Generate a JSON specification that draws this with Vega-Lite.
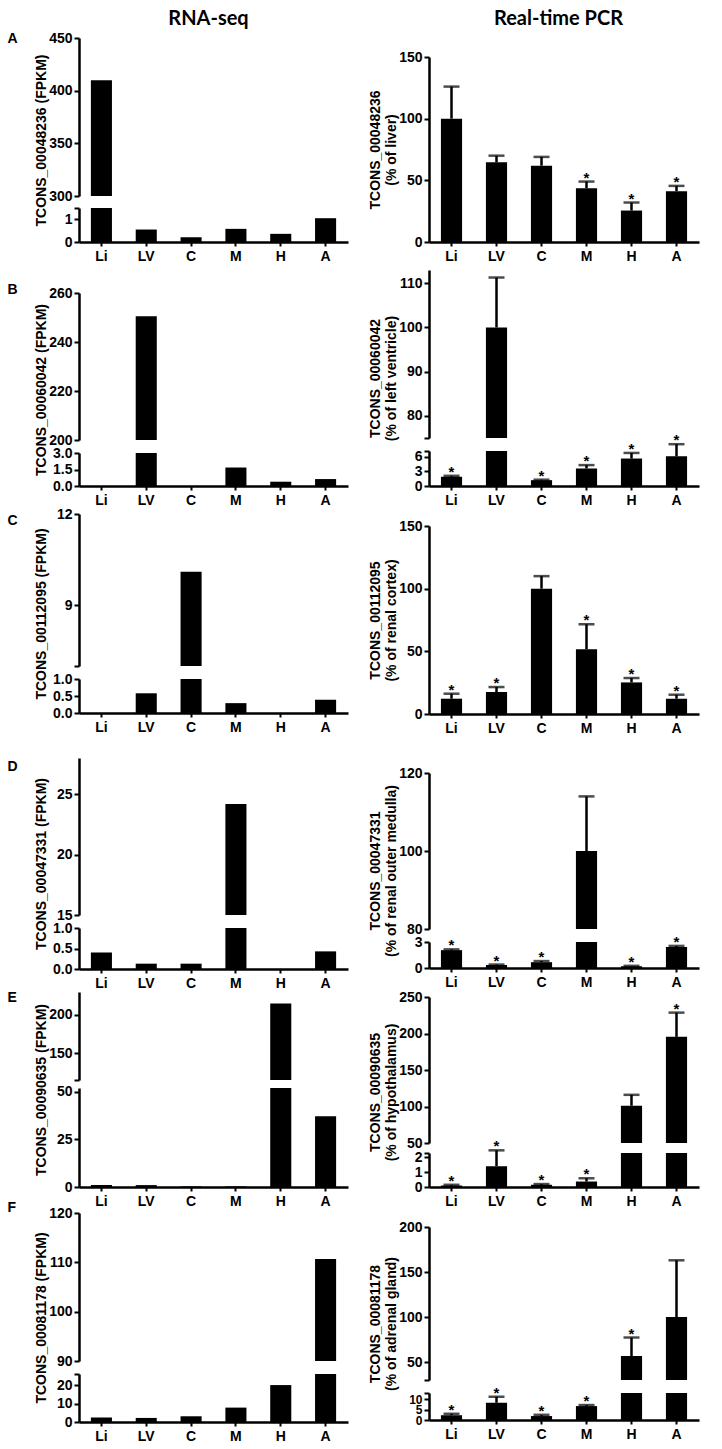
{
"$schema":"https://vega.github.io/schema/vega-lite/v6.json",
"padding":{"left":7,"top":8,"right":5,"bottom":5},
"background":"white",
"data":{"values":[
{"panel":"A","method":"RNA","tissue":"Li","value":410},
{"panel":"A","method":"RNA","tissue":"LV","value":0.55},
{"panel":"A","method":"RNA","tissue":"C","value":0.21},
{"panel":"A","method":"RNA","tissue":"M","value":0.58},
{"panel":"A","method":"RNA","tissue":"H","value":0.36},
{"panel":"A","method":"RNA","tissue":"A","value":1.05},
{"panel":"B","method":"RNA","tissue":"Li","value":0},
{"panel":"B","method":"RNA","tissue":"LV","value":250.5},
{"panel":"B","method":"RNA","tissue":"C","value":0},
{"panel":"B","method":"RNA","tissue":"M","value":1.68},
{"panel":"B","method":"RNA","tissue":"H","value":0.39},
{"panel":"B","method":"RNA","tissue":"A","value":0.63},
{"panel":"C","method":"RNA","tissue":"Li","value":0},
{"panel":"C","method":"RNA","tissue":"LV","value":0.58},
{"panel":"C","method":"RNA","tissue":"C","value":10.1},
{"panel":"C","method":"RNA","tissue":"M","value":0.29},
{"panel":"C","method":"RNA","tissue":"H","value":0},
{"panel":"C","method":"RNA","tissue":"A","value":0.39},
{"panel":"D","method":"RNA","tissue":"Li","value":0.4},
{"panel":"D","method":"RNA","tissue":"LV","value":0.13},
{"panel":"D","method":"RNA","tissue":"C","value":0.13},
{"panel":"D","method":"RNA","tissue":"M","value":24.2},
{"panel":"D","method":"RNA","tissue":"H","value":0},
{"panel":"D","method":"RNA","tissue":"A","value":0.43},
{"panel":"E","method":"RNA","tissue":"Li","value":1.1},
{"panel":"E","method":"RNA","tissue":"LV","value":1},
{"panel":"E","method":"RNA","tissue":"C","value":0.3},
{"panel":"E","method":"RNA","tissue":"M","value":0.3},
{"panel":"E","method":"RNA","tissue":"H","value":215},
{"panel":"E","method":"RNA","tissue":"A","value":37.2},
{"panel":"F","method":"RNA","tissue":"Li","value":2.4},
{"panel":"F","method":"RNA","tissue":"LV","value":2.2},
{"panel":"F","method":"RNA","tissue":"C","value":3.1},
{"panel":"F","method":"RNA","tissue":"M","value":7.8},
{"panel":"F","method":"RNA","tissue":"H","value":20},
{"panel":"F","method":"RNA","tissue":"A","value":110.7},
{"panel":"A","method":"PCR","tissue":"Li","value":100,"hi":126,"sig":false},
{"panel":"A","method":"PCR","tissue":"LV","value":64.6,"hi":70,"sig":false},
{"panel":"A","method":"PCR","tissue":"C","value":61.9,"hi":69,"sig":false},
{"panel":"A","method":"PCR","tissue":"M","value":43.6,"hi":49,"sig":true},
{"panel":"A","method":"PCR","tissue":"H","value":25.5,"hi":32,"sig":true},
{"panel":"A","method":"PCR","tissue":"A","value":41.2,"hi":45.5,"sig":true},
{"panel":"B","method":"PCR","tissue":"Li","value":1.9,"hi":2.1,"sig":true},
{"panel":"B","method":"PCR","tissue":"LV","value":100,"hi":111.3,"sig":false},
{"panel":"B","method":"PCR","tissue":"C","value":1.2,"hi":1.3,"sig":true},
{"panel":"B","method":"PCR","tissue":"M","value":3.6,"hi":4.3,"sig":true},
{"panel":"B","method":"PCR","tissue":"H","value":5.65,"hi":6.8,"sig":true},
{"panel":"B","method":"PCR","tissue":"A","value":6.1,"hi":8.6,"sig":true},
{"panel":"C","method":"PCR","tissue":"Li","value":12.2,"hi":16.2,"sig":true},
{"panel":"C","method":"PCR","tissue":"LV","value":17.5,"hi":21.5,"sig":true},
{"panel":"C","method":"PCR","tissue":"C","value":100,"hi":110,"sig":false},
{"panel":"C","method":"PCR","tissue":"M","value":51.7,"hi":71.6,"sig":true},
{"panel":"C","method":"PCR","tissue":"H","value":25.2,"hi":28.7,"sig":true},
{"panel":"C","method":"PCR","tissue":"A","value":12.2,"hi":15.4,"sig":true},
{"panel":"D","method":"PCR","tissue":"Li","value":2.06,"hi":2.15,"sig":true},
{"panel":"D","method":"PCR","tissue":"LV","value":0.34,"hi":0.4,"sig":true},
{"panel":"D","method":"PCR","tissue":"C","value":0.67,"hi":0.8,"sig":true},
{"panel":"D","method":"PCR","tissue":"M","value":100,"hi":114,"sig":false},
{"panel":"D","method":"PCR","tissue":"H","value":0.2,"hi":0.25,"sig":true},
{"panel":"D","method":"PCR","tissue":"A","value":2.43,"hi":2.55,"sig":true},
{"panel":"E","method":"PCR","tissue":"Li","value":0.1,"hi":0.15,"sig":true},
{"panel":"E","method":"PCR","tissue":"LV","value":1.41,"hi":2.48,"sig":true},
{"panel":"E","method":"PCR","tissue":"C","value":0.15,"hi":0.2,"sig":true},
{"panel":"E","method":"PCR","tissue":"M","value":0.37,"hi":0.59,"sig":true},
{"panel":"E","method":"PCR","tissue":"H","value":101,"hi":116,"sig":false},
{"panel":"E","method":"PCR","tissue":"A","value":195.4,"hi":228.6,"sig":true},
{"panel":"F","method":"PCR","tissue":"Li","value":2.3,"hi":3,"sig":true},
{"panel":"F","method":"PCR","tissue":"LV","value":8.3,"hi":11.2,"sig":true},
{"panel":"F","method":"PCR","tissue":"C","value":1.9,"hi":2.5,"sig":true},
{"panel":"F","method":"PCR","tissue":"M","value":6.7,"hi":7.2,"sig":true},
{"panel":"F","method":"PCR","tissue":"H","value":56.7,"hi":77.2,"sig":true},
{"panel":"F","method":"PCR","tissue":"A","value":100,"hi":163,"sig":false}
]},
"config":{
"view":{"stroke":null},
"font":"Liberation Sans",
"bar":{"color":"black"},
"rule":{"color":"black"},
"tick":{"color":"black"},
"text":{"color":"black"},
"title":{"font":"Liberation Sans","color":"black"},
"axis":{"domainColor":"black","domainWidth":2.5,"tickColor":"black","tickWidth":2,"tickSize":5,"labelColor":"black","labelFont":"Liberation Sans","labelFontWeight":"bold","labelFontSize":14,"titleFont":"Liberation Sans","titleFontWeight":"bold","titleFontSize":14,"titleColor":"black","grid":false,"labelPadding":2,"labelOverlap":false,"labelFlush":false},
"axisX":{"labelAngle":0,"tickSize":4,"labelPadding":3,"labelFontSize":14}
},
"spacing":19,
"hconcat":[
{"bounds":"flush","spacing":0,
 "vconcat":[
  {"width":269,"height":19,"data":{"values":[{}]},"mark":{"type":"text","text":""},
   "encoding":{"x":{"datum":0,"type":"quantitative","axis":{"orient":"top","domain":false,"ticks":false,"labels":false,"title":"RNA-seq","titleFont":"Lato","titleFontSize":20,"titleX":129,"titleY":5,"titleAlign":"center","titleBaseline":"alphabetic","titleAngle":0}}}},
  {"width":269,"height":158,"transform":[{"filter":"datum.panel=='A' && datum.method=='RNA'"}],
   "mark":{"type":"bar","clip":true},
   "encoding":{"x":{"field":"tissue","type":"nominal","sort":["Li","LV","C","M","H","A"],"scale":{"paddingInner":0.53,"paddingOuter":0.265},"axis":{"orient":"top","domain":false,"ticks":false,"labels":false,"title":"A","titleX":-72,"titleY":0,"titleAlign":"left","titleBaseline":"middle","titleAngle":0}},
    "y":{"field":"value","type":"quantitative","scale":{"domain":[300,450],"nice":false,"zero":false},"axis":{"values":[300,350,400,450],"title":"TCONS_00048236 (FPKM)","titleX":-38,"titleY":102,"titleBaseline":"middle"}}}},
  {"width":269,"height":12,"data":{"values":[]},"mark":"text","encoding":{}},
  {"width":269,"height":34,"transform":[{"filter":"datum.panel=='A' && datum.method=='RNA'"}],
   "mark":{"type":"bar","clip":true},
   "encoding":{"x":{"field":"tissue","type":"nominal","sort":["Li","LV","C","M","H","A"],"scale":{"paddingInner":0.53,"paddingOuter":0.265},"axis":{"title":null}},
    "y":{"field":"value","type":"quantitative","scale":{"domain":[0,1.5],"nice":false},"axis":{"values":[0,1,1.5],"labelOverlap":false,"labelExpr":"datum.value==1.5?'':''+datum.value","title":null}}}},
  {"width":269,"height":51,"data":{"values":[]},"mark":"text","encoding":{}},
  {"width":269,"height":147,"transform":[{"filter":"datum.panel=='B' && datum.method=='RNA'"}],
   "mark":{"type":"bar","clip":true},
   "encoding":{"x":{"field":"tissue","type":"nominal","sort":["Li","LV","C","M","H","A"],"scale":{"paddingInner":0.53,"paddingOuter":0.265},"axis":{"orient":"top","domain":false,"ticks":false,"labels":false,"title":"B","titleX":-72,"titleY":-4,"titleAlign":"left","titleBaseline":"middle","titleAngle":0}},
    "y":{"field":"value","type":"quantitative","scale":{"domain":[200,260],"nice":false,"zero":false},"axis":{"values":[200,220,240,260],"title":"TCONS_00060042 (FPKM)","titleX":-38,"titleY":96.5,"titleBaseline":"middle"}}}},
  {"width":269,"height":13,"data":{"values":[]},"mark":"text","encoding":{}},
  {"width":269,"height":33,"transform":[{"filter":"datum.panel=='B' && datum.method=='RNA'"}],
   "mark":{"type":"bar","clip":true},
   "encoding":{"x":{"field":"tissue","type":"nominal","sort":["Li","LV","C","M","H","A"],"scale":{"paddingInner":0.53,"paddingOuter":0.265},"axis":{"title":null}},
    "y":{"field":"value","type":"quantitative","scale":{"domain":[0,3],"nice":false},"axis":{"values":[0,1.5,3],"labelOverlap":false,"format":".1f","title":null}}}},
  {"width":269,"height":28,"data":{"values":[]},"mark":"text","encoding":{}},
  {"width":269,"height":152,"transform":[{"filter":"datum.panel=='C' && datum.method=='RNA'"}],
   "mark":{"type":"bar","clip":true},
   "encoding":{"x":{"field":"tissue","type":"nominal","sort":["Li","LV","C","M","H","A"],"scale":{"paddingInner":0.53,"paddingOuter":0.265},"axis":{"orient":"top","domain":false,"ticks":false,"labels":false,"title":"C","titleX":-72,"titleY":6,"titleAlign":"left","titleBaseline":"middle","titleAngle":0}},
    "y":{"field":"value","type":"quantitative","scale":{"domain":[7,12],"nice":false,"zero":false},"axis":{"values":[7,9,12],"labelExpr":"datum.value==7?'':''+datum.value","title":"TCONS_00112095 (FPKM)","titleX":-38,"titleY":99.5,"titleBaseline":"middle"}}}},
  {"width":269,"height":13,"data":{"values":[]},"mark":"text","encoding":{}},
  {"width":269,"height":34,"transform":[{"filter":"datum.panel=='C' && datum.method=='RNA'"}],
   "mark":{"type":"bar","clip":true},
   "encoding":{"x":{"field":"tissue","type":"nominal","sort":["Li","LV","C","M","H","A"],"scale":{"paddingInner":0.53,"paddingOuter":0.265},"axis":{"title":null}},
    "y":{"field":"value","type":"quantitative","scale":{"domain":[0,1],"nice":false},"axis":{"values":[0,0.5,1],"labelOverlap":false,"format":".1f","title":null}}}},
  {"width":269,"height":45,"data":{"values":[]},"mark":"text","encoding":{}},
  {"width":269,"height":157,"transform":[{"filter":"datum.panel=='D' && datum.method=='RNA'"}],
   "mark":{"type":"bar","clip":true},
   "encoding":{"x":{"field":"tissue","type":"nominal","sort":["Li","LV","C","M","H","A"],"scale":{"paddingInner":0.53,"paddingOuter":0.265},"axis":{"orient":"top","domain":false,"ticks":false,"labels":false,"title":"D","titleX":-72,"titleY":8,"titleAlign":"left","titleBaseline":"middle","titleAngle":0}},
    "y":{"field":"value","type":"quantitative","scale":{"domain":[15,28],"nice":false,"zero":false},"axis":{"values":[15,20,25],"title":"TCONS_00047331 (FPKM)","titleX":-38,"titleY":105.5,"titleBaseline":"middle"}}}},
  {"width":269,"height":13,"data":{"values":[]},"mark":"text","encoding":{}},
  {"width":269,"height":41,"transform":[{"filter":"datum.panel=='D' && datum.method=='RNA'"}],
   "mark":{"type":"bar","clip":true},
   "encoding":{"x":{"field":"tissue","type":"nominal","sort":["Li","LV","C","M","H","A"],"scale":{"paddingInner":0.53,"paddingOuter":0.265},"axis":{"title":null}},
    "y":{"field":"value","type":"quantitative","scale":{"domain":[0,1],"nice":false},"axis":{"values":[0,0.5,1],"labelOverlap":false,"format":".1f","title":null}}}},
  {"width":269,"height":23,"data":{"values":[]},"mark":"text","encoding":{}},
  {"width":269,"height":88,"transform":[{"filter":"datum.panel=='E' && datum.method=='RNA'"}],
   "mark":{"type":"bar","clip":true},
   "encoding":{"x":{"field":"tissue","type":"nominal","sort":["Li","LV","C","M","H","A"],"scale":{"paddingInner":0.53,"paddingOuter":0.265},"axis":{"orient":"top","domain":false,"ticks":false,"labels":false,"title":"E","titleX":-72,"titleY":5,"titleAlign":"left","titleBaseline":"middle","titleAngle":0}},
    "y":{"field":"value","type":"quantitative","scale":{"domain":[115,230],"nice":false,"zero":false},"axis":{"values":[115,150,200],"labelExpr":"datum.value==115?'':''+datum.value","title":"TCONS_00090635 (FPKM)","titleX":-38,"titleY":97.5,"titleBaseline":"middle"}}}},
  {"width":269,"height":8,"data":{"values":[]},"mark":"text","encoding":{}},
  {"width":269,"height":99,"transform":[{"filter":"datum.panel=='E' && datum.method=='RNA'"}],
   "mark":{"type":"bar","clip":true},
   "encoding":{"x":{"field":"tissue","type":"nominal","sort":["Li","LV","C","M","H","A"],"scale":{"paddingInner":0.53,"paddingOuter":0.265},"axis":{"title":null}},
    "y":{"field":"value","type":"quantitative","scale":{"domain":[0,52],"nice":false},"axis":{"values":[0,25,50],"title":null}}}},
  {"width":269,"height":26,"data":{"values":[]},"mark":"text","encoding":{}},
  {"width":269,"height":148,"transform":[{"filter":"datum.panel=='F' && datum.method=='RNA'"}],
   "mark":{"type":"bar","clip":true},
   "encoding":{"x":{"field":"tissue","type":"nominal","sort":["Li","LV","C","M","H","A"],"scale":{"paddingInner":0.53,"paddingOuter":0.265},"axis":{"orient":"top","domain":false,"ticks":false,"labels":false,"title":"F","titleX":-72,"titleY":-6,"titleAlign":"left","titleBaseline":"middle","titleAngle":0}},
    "y":{"field":"value","type":"quantitative","scale":{"domain":[90,120],"nice":false,"zero":false},"axis":{"values":[90,100,110,120],"title":"TCONS_00081178 (FPKM)","titleX":-38,"titleY":104.5,"titleBaseline":"middle"}}}},
  {"width":269,"height":13,"data":{"values":[]},"mark":"text","encoding":{}},
  {"width":269,"height":48,"transform":[{"filter":"datum.panel=='F' && datum.method=='RNA'"}],
   "mark":{"type":"bar","clip":true},
   "encoding":{"x":{"field":"tissue","type":"nominal","sort":["Li","LV","C","M","H","A"],"scale":{"paddingInner":0.53,"paddingOuter":0.265},"axis":{"title":null}},
    "y":{"field":"value","type":"quantitative","scale":{"domain":[0,26],"nice":false},"axis":{"values":[0,10,20,26],"labelOverlap":false,"labelExpr":"datum.value==26?'':''+datum.value","title":null}}}}
 ]},
{"bounds":"flush","spacing":0,
 "vconcat":[
  {"width":270,"height":19,"data":{"values":[{}]},"mark":{"type":"text","text":""},
   "encoding":{"x":{"datum":0,"type":"quantitative","axis":{"orient":"top","domain":false,"ticks":false,"labels":false,"title":"Real-time PCR","titleFont":"Lato","titleFontSize":20,"titleX":129,"titleY":5,"titleAlign":"center","titleBaseline":"alphabetic","titleAngle":0}}}},
  {"width":270,"height":19,"data":{"values":[]},"mark":"text","encoding":{}},
  {"width":270,"height":185,"transform":[{"filter":"datum.panel=='A' && datum.method=='PCR'"}],
   "encoding":{"x":{"field":"tissue","type":"nominal","sort":["Li","LV","C","M","H","A"],"scale":{"paddingInner":0.53,"paddingOuter":0.265},"axis":{"title":null}}},
   "layer":[
    {"mark":{"type":"bar","clip":true},"encoding":{"y":{"field":"value","type":"quantitative","scale":{"domain":[0,150],"nice":false},"axis":{"values":[0,50,100,150],"labelOverlap":false,"title":["TCONS_00048236","(% of liver)"],"titleX":-54,"titleY":92.5,"titleBaseline":"middle"}}}},
    {"mark":{"type":"rule","strokeWidth":2.5,"color":"black"},"encoding":{"y":{"field":"value","type":"quantitative","axis":{"values":[0,50,100,150],"labelOverlap":false,"title":["TCONS_00048236","(% of liver)"],"titleX":-54,"titleY":92.5,"titleBaseline":"middle"}},"y2":{"field":"hi"}}},
    {"mark":{"type":"tick","thickness":2.5,"size":16,"color":"black"},"encoding":{"y":{"field":"hi","type":"quantitative","axis":{"values":[0,50,100,150],"labelOverlap":false,"title":["TCONS_00048236","(% of liver)"],"titleX":-54,"titleY":92.5,"titleBaseline":"middle"}}}},
    {"transform":[{"filter":"datum.sig"}],"mark":{"type":"text","text":"*","fontSize":15,"fontWeight":"bold","baseline":"alphabetic","dy":1,"color":"black"},"encoding":{"y":{"field":"hi","type":"quantitative","axis":{"values":[0,50,100,150],"labelOverlap":false,"title":["TCONS_00048236","(% of liver)"],"titleX":-54,"titleY":92.5,"titleBaseline":"middle"}}}}
   ]},
  {"width":270,"height":28,"data":{"values":[]},"mark":"text","encoding":{}},
  {"width":270,"height":168,"transform":[{"filter":"datum.panel=='B' && datum.method=='PCR'"}],
   "encoding":{"x":{"field":"tissue","type":"nominal","sort":["Li","LV","C","M","H","A"],"scale":{"paddingInner":0.53,"paddingOuter":0.265},"axis":null}},
   "layer":[
    {"mark":{"type":"bar","clip":true},"encoding":{"y":{"field":"value","type":"quantitative","scale":{"domain":[75,113],"nice":false,"zero":false},"axis":{"values":[75,80,90,100,110],"labelOverlap":false,"labelExpr":"datum.value==75?'':''+datum.value","title":["TCONS_00060042","(% of left ventricle)"],"titleX":-54,"titleY":108,"titleBaseline":"middle"}}}},
    {"transform":[{"filter":"datum.value>=75"}],"mark":{"type":"rule","strokeWidth":2.5,"color":"black"},"encoding":{"y":{"field":"value","type":"quantitative","axis":{"values":[75,80,90,100,110],"labelOverlap":false,"labelExpr":"datum.value==75?'':''+datum.value","title":["TCONS_00060042","(% of left ventricle)"],"titleX":-54,"titleY":108,"titleBaseline":"middle"}},"y2":{"field":"hi"}}},
    {"transform":[{"filter":"datum.value>=75"}],"mark":{"type":"tick","thickness":2.5,"size":16,"color":"black"},"encoding":{"y":{"field":"hi","type":"quantitative","axis":{"values":[75,80,90,100,110],"labelOverlap":false,"labelExpr":"datum.value==75?'':''+datum.value","title":["TCONS_00060042","(% of left ventricle)"],"titleX":-54,"titleY":108,"titleBaseline":"middle"}}}},
    {"transform":[{"filter":"datum.value>=75 && datum.sig"}],"mark":{"type":"text","text":"*","fontSize":15,"fontWeight":"bold","baseline":"alphabetic","dy":1,"color":"black"},"encoding":{"y":{"field":"hi","type":"quantitative","axis":{"values":[75,80,90,100,110],"labelOverlap":false,"labelExpr":"datum.value==75?'':''+datum.value","title":["TCONS_00060042","(% of left ventricle)"],"titleX":-54,"titleY":108,"titleBaseline":"middle"}}}}
   ]},
  {"width":270,"height":13,"data":{"values":[]},"mark":"text","encoding":{}},
  {"width":270,"height":35,"transform":[{"filter":"datum.panel=='B' && datum.method=='PCR'"}],
   "encoding":{"x":{"field":"tissue","type":"nominal","sort":["Li","LV","C","M","H","A"],"scale":{"paddingInner":0.53,"paddingOuter":0.265},"axis":{"title":null}}},
   "layer":[
    {"mark":{"type":"bar","clip":true},"encoding":{"y":{"field":"value","type":"quantitative","scale":{"domain":[0,7.2],"nice":false},"axis":{"values":[0,3,6,7.2],"labelOverlap":false,"labelExpr":"datum.value==7.2?'':''+datum.value","title":null}}}},
    {"transform":[{"filter":"datum.value<75"}],"mark":{"type":"rule","strokeWidth":2.5,"color":"black"},"encoding":{"y":{"field":"value","type":"quantitative","axis":{"values":[0,3,6,7.2],"labelOverlap":false,"labelExpr":"datum.value==7.2?'':''+datum.value","title":null}},"y2":{"field":"hi"}}},
    {"transform":[{"filter":"datum.value<75"}],"mark":{"type":"tick","thickness":2.5,"size":16,"color":"black"},"encoding":{"y":{"field":"hi","type":"quantitative","axis":{"values":[0,3,6,7.2],"labelOverlap":false,"labelExpr":"datum.value==7.2?'':''+datum.value","title":null}}}},
    {"transform":[{"filter":"datum.value<75 && datum.sig"}],"mark":{"type":"text","text":"*","fontSize":15,"fontWeight":"bold","baseline":"alphabetic","dy":1,"color":"black"},"encoding":{"y":{"field":"hi","type":"quantitative","axis":{"values":[0,3,6,7.2],"labelOverlap":false,"labelExpr":"datum.value==7.2?'':''+datum.value","title":null}}}}
   ]},
  {"width":270,"height":40,"data":{"values":[]},"mark":"text","encoding":{}},
  {"width":270,"height":188,"transform":[{"filter":"datum.panel=='C' && datum.method=='PCR'"}],
   "encoding":{"x":{"field":"tissue","type":"nominal","sort":["Li","LV","C","M","H","A"],"scale":{"paddingInner":0.53,"paddingOuter":0.265},"axis":{"title":null}}},
   "layer":[
    {"mark":{"type":"bar","clip":true},"encoding":{"y":{"field":"value","type":"quantitative","scale":{"domain":[0,150],"nice":false},"axis":{"values":[0,50,100,150],"labelOverlap":false,"title":["TCONS_00112095","(% of  renal cortex)"],"titleX":-54,"titleY":94,"titleBaseline":"middle"}}}},
    {"mark":{"type":"rule","strokeWidth":2.5,"color":"black"},"encoding":{"y":{"field":"value","type":"quantitative","axis":{"values":[0,50,100,150],"labelOverlap":false,"title":["TCONS_00112095","(% of  renal cortex)"],"titleX":-54,"titleY":94,"titleBaseline":"middle"}},"y2":{"field":"hi"}}},
    {"mark":{"type":"tick","thickness":2.5,"size":16,"color":"black"},"encoding":{"y":{"field":"hi","type":"quantitative","axis":{"values":[0,50,100,150],"labelOverlap":false,"title":["TCONS_00112095","(% of  renal cortex)"],"titleX":-54,"titleY":94,"titleBaseline":"middle"}}}},
    {"transform":[{"filter":"datum.sig"}],"mark":{"type":"text","text":"*","fontSize":15,"fontWeight":"bold","baseline":"alphabetic","dy":1,"color":"black"},"encoding":{"y":{"field":"hi","type":"quantitative","axis":{"values":[0,50,100,150],"labelOverlap":false,"title":["TCONS_00112095","(% of  renal cortex)"],"titleX":-54,"titleY":94,"titleBaseline":"middle"}}}}
   ]},
  {"width":270,"height":59,"data":{"values":[]},"mark":"text","encoding":{}},
  {"width":270,"height":156,"transform":[{"filter":"datum.panel=='D' && datum.method=='PCR'"}],
   "encoding":{"x":{"field":"tissue","type":"nominal","sort":["Li","LV","C","M","H","A"],"scale":{"paddingInner":0.53,"paddingOuter":0.265},"axis":null}},
   "layer":[
    {"mark":{"type":"bar","clip":true},"encoding":{"y":{"field":"value","type":"quantitative","scale":{"domain":[80,120],"nice":false,"zero":false},"axis":{"values":[80,100,120],"labelOverlap":false,"title":["TCONS_00047331","(% of  renal outer medulla)"],"titleX":-54,"titleY":97.5,"titleBaseline":"middle"}}}},
    {"transform":[{"filter":"datum.value>=80"}],"mark":{"type":"rule","strokeWidth":2.5,"color":"black"},"encoding":{"y":{"field":"value","type":"quantitative","axis":{"values":[80,100,120],"labelOverlap":false,"title":["TCONS_00047331","(% of  renal outer medulla)"],"titleX":-54,"titleY":97.5,"titleBaseline":"middle"}},"y2":{"field":"hi"}}},
    {"transform":[{"filter":"datum.value>=80"}],"mark":{"type":"tick","thickness":2.5,"size":16,"color":"black"},"encoding":{"y":{"field":"hi","type":"quantitative","axis":{"values":[80,100,120],"labelOverlap":false,"title":["TCONS_00047331","(% of  renal outer medulla)"],"titleX":-54,"titleY":97.5,"titleBaseline":"middle"}}}},
    {"transform":[{"filter":"datum.value>=80 && datum.sig"}],"mark":{"type":"text","text":"*","fontSize":15,"fontWeight":"bold","baseline":"alphabetic","dy":1,"color":"black"},"encoding":{"y":{"field":"hi","type":"quantitative","axis":{"values":[80,100,120],"labelOverlap":false,"title":["TCONS_00047331","(% of  renal outer medulla)"],"titleX":-54,"titleY":97.5,"titleBaseline":"middle"}}}}
   ]},
  {"width":270,"height":13,"data":{"values":[]},"mark":"text","encoding":{}},
  {"width":270,"height":26,"transform":[{"filter":"datum.panel=='D' && datum.method=='PCR'"}],
   "encoding":{"x":{"field":"tissue","type":"nominal","sort":["Li","LV","C","M","H","A"],"scale":{"paddingInner":0.53,"paddingOuter":0.265},"axis":{"title":null}}},
   "layer":[
    {"mark":{"type":"bar","clip":true},"encoding":{"y":{"field":"value","type":"quantitative","scale":{"domain":[0,3],"nice":false},"axis":{"values":[0,3],"labelOverlap":false,"title":null}}}},
    {"transform":[{"filter":"datum.value<80"}],"mark":{"type":"rule","strokeWidth":2.5,"color":"black"},"encoding":{"y":{"field":"value","type":"quantitative","axis":{"values":[0,3],"labelOverlap":false,"title":null}},"y2":{"field":"hi"}}},
    {"transform":[{"filter":"datum.value<80"}],"mark":{"type":"tick","thickness":2.5,"size":16,"color":"black"},"encoding":{"y":{"field":"hi","type":"quantitative","axis":{"values":[0,3],"labelOverlap":false,"title":null}}}},
    {"transform":[{"filter":"datum.value<80 && datum.sig"}],"mark":{"type":"text","text":"*","fontSize":15,"fontWeight":"bold","baseline":"alphabetic","dy":1,"color":"black"},"encoding":{"y":{"field":"hi","type":"quantitative","axis":{"values":[0,3],"labelOverlap":false,"title":null}}}}
   ]},
  {"width":270,"height":29,"data":{"values":[]},"mark":"text","encoding":{}},
  {"width":270,"height":146,"transform":[{"filter":"datum.panel=='E' && datum.method=='PCR'"}],
   "encoding":{"x":{"field":"tissue","type":"nominal","sort":["Li","LV","C","M","H","A"],"scale":{"paddingInner":0.53,"paddingOuter":0.265},"axis":null}},
   "layer":[
    {"mark":{"type":"bar","clip":true},"encoding":{"y":{"field":"value","type":"quantitative","scale":{"domain":[50,250],"nice":false,"zero":false},"axis":{"values":[50,100,150,200,250],"labelOverlap":false,"title":["TCONS_00090635","(% of hypothalamus)"],"titleX":-54,"titleY":95,"titleBaseline":"middle"}}}},
    {"transform":[{"filter":"datum.value>=50"}],"mark":{"type":"rule","strokeWidth":2.5,"color":"black"},"encoding":{"y":{"field":"value","type":"quantitative","axis":{"values":[50,100,150,200,250],"labelOverlap":false,"title":["TCONS_00090635","(% of hypothalamus)"],"titleX":-54,"titleY":95,"titleBaseline":"middle"}},"y2":{"field":"hi"}}},
    {"transform":[{"filter":"datum.value>=50"}],"mark":{"type":"tick","thickness":2.5,"size":16,"color":"black"},"encoding":{"y":{"field":"hi","type":"quantitative","axis":{"values":[50,100,150,200,250],"labelOverlap":false,"title":["TCONS_00090635","(% of hypothalamus)"],"titleX":-54,"titleY":95,"titleBaseline":"middle"}}}},
    {"transform":[{"filter":"datum.value>=50 && datum.sig"}],"mark":{"type":"text","text":"*","fontSize":15,"fontWeight":"bold","baseline":"alphabetic","dy":1,"color":"black"},"encoding":{"y":{"field":"hi","type":"quantitative","axis":{"values":[50,100,150,200,250],"labelOverlap":false,"title":["TCONS_00090635","(% of hypothalamus)"],"titleX":-54,"titleY":95,"titleBaseline":"middle"}}}}
   ]},
  {"width":270,"height":10,"data":{"values":[]},"mark":"text","encoding":{}},
  {"width":270,"height":34,"transform":[{"filter":"datum.panel=='E' && datum.method=='PCR'"}],
   "encoding":{"x":{"field":"tissue","type":"nominal","sort":["Li","LV","C","M","H","A"],"scale":{"paddingInner":0.53,"paddingOuter":0.265},"axis":{"title":null}}},
   "layer":[
    {"mark":{"type":"bar","clip":true},"encoding":{"y":{"field":"value","type":"quantitative","scale":{"domain":[0,2.3],"nice":false},"axis":{"values":[0,1,2,2.3],"labelOverlap":false,"labelExpr":"datum.value==2.3?'':''+datum.value","title":null}}}},
    {"transform":[{"filter":"datum.value<50"}],"mark":{"type":"rule","strokeWidth":2.5,"color":"black"},"encoding":{"y":{"field":"value","type":"quantitative","axis":{"values":[0,1,2,2.3],"labelOverlap":false,"labelExpr":"datum.value==2.3?'':''+datum.value","title":null}},"y2":{"field":"hi"}}},
    {"transform":[{"filter":"datum.value<50"}],"mark":{"type":"tick","thickness":2.5,"size":16,"color":"black"},"encoding":{"y":{"field":"hi","type":"quantitative","axis":{"values":[0,1,2,2.3],"labelOverlap":false,"labelExpr":"datum.value==2.3?'':''+datum.value","title":null}}}},
    {"transform":[{"filter":"datum.value<50 && datum.sig"}],"mark":{"type":"text","text":"*","fontSize":15,"fontWeight":"bold","baseline":"alphabetic","dy":1,"color":"black"},"encoding":{"y":{"field":"hi","type":"quantitative","axis":{"values":[0,1,2,2.3],"labelOverlap":false,"labelExpr":"datum.value==2.3?'':''+datum.value","title":null}}}}
   ]},
  {"width":270,"height":40,"data":{"values":[]},"mark":"text","encoding":{}},
  {"width":270,"height":153,"transform":[{"filter":"datum.panel=='F' && datum.method=='PCR'"}],
   "encoding":{"x":{"field":"tissue","type":"nominal","sort":["Li","LV","C","M","H","A"],"scale":{"paddingInner":0.53,"paddingOuter":0.265},"axis":null}},
   "layer":[
    {"mark":{"type":"bar","clip":true},"encoding":{"y":{"field":"value","type":"quantitative","scale":{"domain":[30,200],"nice":false,"zero":false},"axis":{"values":[30,50,100,150,200],"labelOverlap":false,"labelExpr":"datum.value==30?'':''+datum.value","title":["TCONS_00081178","(% of adrenal gland)"],"titleX":-54,"titleY":96.5,"titleBaseline":"middle"}}}},
    {"transform":[{"filter":"datum.value>=30"}],"mark":{"type":"rule","strokeWidth":2.5,"color":"black"},"encoding":{"y":{"field":"value","type":"quantitative","axis":{"values":[30,50,100,150,200],"labelOverlap":false,"labelExpr":"datum.value==30?'':''+datum.value","title":["TCONS_00081178","(% of adrenal gland)"],"titleX":-54,"titleY":96.5,"titleBaseline":"middle"}},"y2":{"field":"hi"}}},
    {"transform":[{"filter":"datum.value>=30"}],"mark":{"type":"tick","thickness":2.5,"size":16,"color":"black"},"encoding":{"y":{"field":"hi","type":"quantitative","axis":{"values":[30,50,100,150,200],"labelOverlap":false,"labelExpr":"datum.value==30?'':''+datum.value","title":["TCONS_00081178","(% of adrenal gland)"],"titleX":-54,"titleY":96.5,"titleBaseline":"middle"}}}},
    {"transform":[{"filter":"datum.value>=30 && datum.sig"}],"mark":{"type":"text","text":"*","fontSize":15,"fontWeight":"bold","baseline":"alphabetic","dy":1,"color":"black"},"encoding":{"y":{"field":"hi","type":"quantitative","axis":{"values":[30,50,100,150,200],"labelOverlap":false,"labelExpr":"datum.value==30?'':''+datum.value","title":["TCONS_00081178","(% of adrenal gland)"],"titleX":-54,"titleY":96.5,"titleBaseline":"middle"}}}}
   ]},
  {"width":270,"height":13,"data":{"values":[]},"mark":"text","encoding":{}},
  {"width":270,"height":27,"transform":[{"filter":"datum.panel=='F' && datum.method=='PCR'"}],
   "encoding":{"x":{"field":"tissue","type":"nominal","sort":["Li","LV","C","M","H","A"],"scale":{"paddingInner":0.53,"paddingOuter":0.265},"axis":{"title":null}}},
   "layer":[
    {"mark":{"type":"bar","clip":true},"encoding":{"y":{"field":"value","type":"quantitative","scale":{"domain":[0,13],"nice":false},"axis":{"values":[0,5,10,13],"labelOverlap":false,"labelFontSize":12,"labelExpr":"datum.value==13?'':''+datum.value","title":null}}}},
    {"transform":[{"filter":"datum.value<30"}],"mark":{"type":"rule","strokeWidth":2.5,"color":"black"},"encoding":{"y":{"field":"value","type":"quantitative","axis":{"values":[0,5,10,13],"labelOverlap":false,"labelFontSize":12,"labelExpr":"datum.value==13?'':''+datum.value","title":null}},"y2":{"field":"hi"}}},
    {"transform":[{"filter":"datum.value<30"}],"mark":{"type":"tick","thickness":2.5,"size":16,"color":"black"},"encoding":{"y":{"field":"hi","type":"quantitative","axis":{"values":[0,5,10,13],"labelOverlap":false,"labelFontSize":12,"labelExpr":"datum.value==13?'':''+datum.value","title":null}}}},
    {"transform":[{"filter":"datum.value<30 && datum.sig"}],"mark":{"type":"text","text":"*","fontSize":15,"fontWeight":"bold","baseline":"alphabetic","dy":1,"color":"black"},"encoding":{"y":{"field":"hi","type":"quantitative","axis":{"values":[0,5,10,13],"labelOverlap":false,"labelFontSize":12,"labelExpr":"datum.value==13?'':''+datum.value","title":null}}}}
   ]}
 ]}
]
}
